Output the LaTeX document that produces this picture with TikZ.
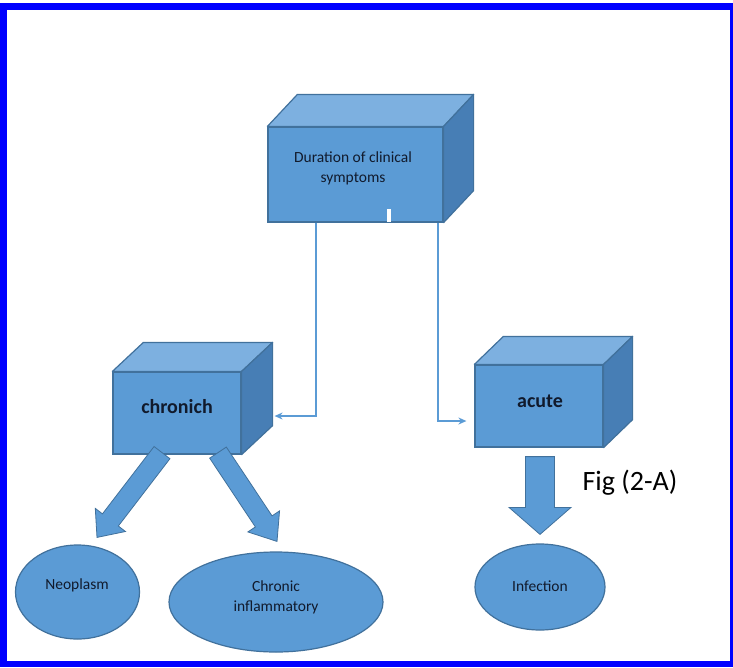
\documentclass[tikz,border=0pt]{standalone}
\usepackage{fontspec}
\setmainfont{Carlito}
\usetikzlibrary{calc,arrows.meta,shapes.geometric}

\definecolor{frameblue}{HTML}{0000FF}
\definecolor{boxfront}{HTML}{5B9BD5}
\definecolor{boxtop}{HTML}{7DB0E0}
\definecolor{boxside}{HTML}{477EB5}
\definecolor{boxedge}{HTML}{41719C}
\definecolor{linkblue}{HTML}{5B9BD5}
\definecolor{inkdark}{HTML}{111A2C}

\tikzset{
  cubefront/.style={rectangle, fill=boxfront, draw=boxedge, line width=1.2pt, inner sep=0pt},
  cubetop/.style={fill=boxtop, draw=boxedge, line width=1.2pt, line join=round},
  cubeside/.style={fill=boxside, draw=boxedge, line width=1.2pt, line join=round},
  blob/.style={ellipse, fill=boxfront, draw=boxedge, line width=1.2pt, inner sep=0pt},
  boxtext/.style={text=inkdark, font=\fontsize{15.5}{20}\selectfont, align=center, inner sep=0pt},
  boldtext/.style={text=inkdark, font=\fontsize{20}{24}\selectfont\bfseries, inner sep=0pt},
  conn/.style={draw=linkblue, line width=1.6pt, -{Stealth[length=8pt,width=7pt]}},
  blockarrow/.style={fill=boxfront, draw=boxedge, line width=0.8pt, line join=miter},
}

% top and right faces of a box drawn behind its front face
\newcommand\cubefaces[3]{%
  \filldraw[cubetop] (#1.north west) -- ++(#2,#3) -- ($(#1.north east)+(#2,#3)$) -- (#1.north east) -- cycle;
  \filldraw[cubeside] (#1.north east) -- ++(#2,#3) -- ($(#1.south east)+(#2,#3)$) -- (#1.south east) -- cycle;
}

% broad arrow: start, tip, shaft half-width, head half-width, head length
\newcommand\fatarrow[5]{%
  \coordinate (fa-b) at ($(#2)!#5!(#1)$);
  \filldraw[blockarrow]
    ($(#1)!#3!90:(#2)$) -- ($(fa-b)!#3!90:(#2)$) -- ($(fa-b)!#4!90:(#2)$) -- (#2)
    -- ($(fa-b)!#4!-90:(#2)$) -- ($(fa-b)!#3!-90:(#2)$) -- ($(#1)!#3!-90:(#2)$) -- cycle;
}

\begin{document}
\begin{tikzpicture}[x=1pt,y=-1pt]
\useasboundingbox (0,0) rectangle (733,667);
% frame
\fill[white] (0,0) rectangle (733,667);
\fill[frameblue] (0,3) rectangle (733,667);
\fill[white] (7,10) rectangle (730,661);

% boxes
\node[cubefront, minimum width=175pt, minimum height=95pt] (dur) at (355.5,174.5) {};
\cubefaces{dur}{30}{-32}
\fill[white] (386.5,209) rectangle (390.5,222);
\node[boxtext] (durlabel) at (353,168) {Duration of clinical\\symptoms};

\node[cubefront, minimum width=128pt, minimum height=82pt] (chronic) at (177,413) {};
\cubefaces{chronic}{31}{-29}
\node[boldtext] (chroniclabel) at (177,407) {chronich};

\node[cubefront, minimum width=128pt, minimum height=82pt] (acute) at (539,406) {};
\cubefaces{acute}{29}{-28}
\node[boldtext] (acutelabel) at (540,401) {acute};

% outcomes
\node[blob, minimum width=124pt, minimum height=94pt] (neo) at (77.5,592) {};
\node[boxtext] (neolabel) at (77,585) {Neoplasm};
\node[blob, minimum width=214pt, minimum height=100pt] (infl) at (276,602) {};
\node[boxtext] (infllabel) at (276,597) {Chronic\\inflammatory};
\node[blob, minimum width=130pt, minimum height=86pt] (infect) at (540,587) {};
\node[boxtext] (infectlabel) at (540,586) {Infection};

\node[text=black, font=\fontsize{28}{32}\selectfont, inner sep=0pt] (fig) at (630,483) {Fig (2-A)};

% links from the top box
\draw[conn] ($(dur.south)+(-39.5,0)$) |- ($(chronic.east)+(33,3)$);
\draw[conn] ($(dur.south)+(82.5,0)$) |- ($(acute.west)+(-8,15)$);

% broad arrows
\coordinate (a1s) at ($(chronic.south)+(-15,-2)$);
\coordinate (a1t) at ($(neo.north)+(19.5,-7)$);
\fatarrow{a1s}{a1t}{10pt}{19pt}{22pt}
\coordinate (a2s) at ($(chronic.south)+(41,-2)$);
\coordinate (a2t) at ($(infl.north)+(1,-10)$);
\fatarrow{a2s}{a2t}{10pt}{19pt}{24pt}
\coordinate (a3s) at ($(acute.south)+(1,9)$);
\coordinate (a3t) at ($(infect.north)+(0,-9)$);
\fatarrow{a3s}{a3t}{14.5pt}{31pt}{27pt}
\end{tikzpicture}
\end{document}
